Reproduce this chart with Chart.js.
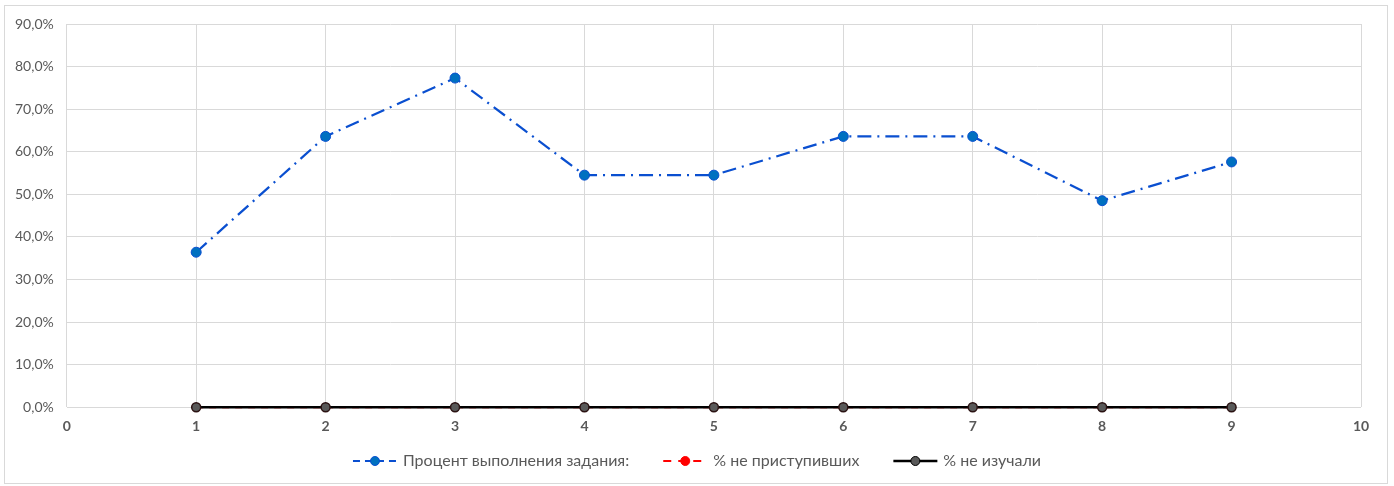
<!DOCTYPE html>
<html>
<head>
<meta charset="utf-8">
<script src="https://cdn.jsdelivr.net/npm/chart.js@4/dist/chart.umd.min.js"></script>
<style>
  html, body { margin: 0; padding: 0; background: #fff; }
  #wrap { width: 1394px; height: 486px; position: relative; }
</style>
</head>
<body>
<div id="wrap"><canvas id="chart" width="1394" height="486"></canvas></div>
<script>
const tasks = [1, 2, 3, 4, 5, 6, 7, 8, 9];
const donePct = [36.4, 63.6, 77.3, 54.5, 54.5, 63.6, 63.6, 48.5, 57.6];
const notStartedPct = [0, 0, 0, 0, 0, 0, 0, 0, 0];
const notStudiedPct = [0, 0, 0, 0, 0, 0, 0, 0, 0];
const seriesNames = ['Процент выполнения задания:', '% не приступивших', '% не изучали'];

const FONT = 'Lato, "Open Sans", sans-serif';
const DASH_DOT = [14, 6, 2, 6];

const toPoints = function (vals) {
    return tasks.map((t, i) => ({ x: t, y: vals[i] }));
};

// frame around the whole chart + legend drawn by hand (line + marker like office charts)
const decor = {
    id: 'decor',
    afterDraw(chart) {
        const ctx = chart.ctx;
        ctx.save();
        ctx.strokeStyle = '#d9d9d9';
        ctx.lineWidth = 1;
        ctx.strokeRect(4.5, 5.5, 1383, 478);

        const items = [
            { text: seriesNames[0], color: '#0a4fd0', fill: '#0070c0', stroke: '#0a4fd0', dash: [7, 5], r: 4.5, w: 2 },
            { text: seriesNames[1], color: '#ff0000', fill: '#ff0000', stroke: '#ff0000', dash: [8, 7], r: 4.5, w: 2 },
            { text: seriesNames[2], color: '#000000', fill: '#595959', stroke: '#000000', dash: [], r: 4.5, w: 2.5 }
        ];
        ctx.font = '16px ' + FONT;
        const lineLen = 44, gapText = 6, gapItem = 34;
        let total = 0;
        items.forEach(it => { it.tw = ctx.measureText(it.text).width; total += lineLen + gapText + it.tw; });
        total += gapItem * (items.length - 1);
        let x = 1394 / 2 - total / 2;
        const y = 461;
        items.forEach(it => {
            ctx.strokeStyle = it.color;
            ctx.lineWidth = it.w;
            ctx.setLineDash(it.dash);
            ctx.beginPath();
            ctx.moveTo(x, y);
            ctx.lineTo(x + lineLen, y);
            ctx.stroke();
            ctx.setLineDash([]);
            ctx.beginPath();
            ctx.arc(x + lineLen / 2, y, it.r, 0, Math.PI * 2);
            ctx.fillStyle = it.fill;
            ctx.fill();
            ctx.lineWidth = 1;
            ctx.strokeStyle = it.stroke;
            ctx.stroke();
            ctx.fillStyle = '#595959';
            ctx.textBaseline = 'middle';
            ctx.fillText(it.text, x + lineLen + gapText, y);
            x += lineLen + gapText + it.tw + gapItem;
        });
        ctx.restore();
    }
};

const ctx = document.getElementById('chart').getContext('2d');
new Chart(ctx, {
    type: 'line',
    data: {
        datasets: [
            {
                label: seriesNames[0],
                data: toPoints(donePct),
                borderColor: '#0a4fd0',
                borderWidth: 2.25,
                borderDash: DASH_DOT,
                pointRadius: 5,
                pointBackgroundColor: '#0070c0',
                pointBorderColor: '#0a4fd0',
                pointBorderWidth: 1,
                clip: false,
                order: 3
            },
            {
                label: seriesNames[1],
                data: toPoints(notStartedPct),
                borderColor: '#ff0000',
                borderWidth: 2,
                borderDash: [7, 6],
                pointRadius: 3.5,
                pointBackgroundColor: '#ff0000',
                pointBorderWidth: 0,
                clip: false,
                order: 2
            },
            {
                label: seriesNames[2],
                data: toPoints(notStudiedPct),
                borderColor: '#000000',
                borderWidth: 2.5,
                pointRadius: 4.5,
                pointBackgroundColor: '#595959',
                pointBorderColor: '#2a1212',
                pointBorderWidth: 1.5,
                clip: false,
                order: 1
            }
        ]
    },
    options: {
        responsive: false,
        animation: false,
        layout: { padding: { left: 2, right: 33, top: 24, bottom: 40 } },
        plugins: {
            legend: { display: false },
            tooltip: { enabled: false }
        },
        scales: {
            x: {
                type: 'linear',
                min: 0,
                max: 10,
                ticks: {
                    stepSize: 1,
                    color: '#595959',
                    padding: 11,
                    font: { family: FONT, size: 14, weight: 'bold' }
                },
                grid: { color: '#d9d9d9', drawTicks: false },
                border: { display: false }
            },
            y: {
                min: 0,
                max: 90,
                ticks: {
                    stepSize: 10,
                    color: '#595959',
                    padding: 13,
                    font: { family: FONT, size: 14 },
                    callback: v => v.toFixed(1).replace('.', ',') + '%'
                },
                grid: { color: '#d9d9d9', drawTicks: false },
                border: { display: false }
            }
        }
    },
    plugins: [decor]
});
</script>
</body>
</html>
